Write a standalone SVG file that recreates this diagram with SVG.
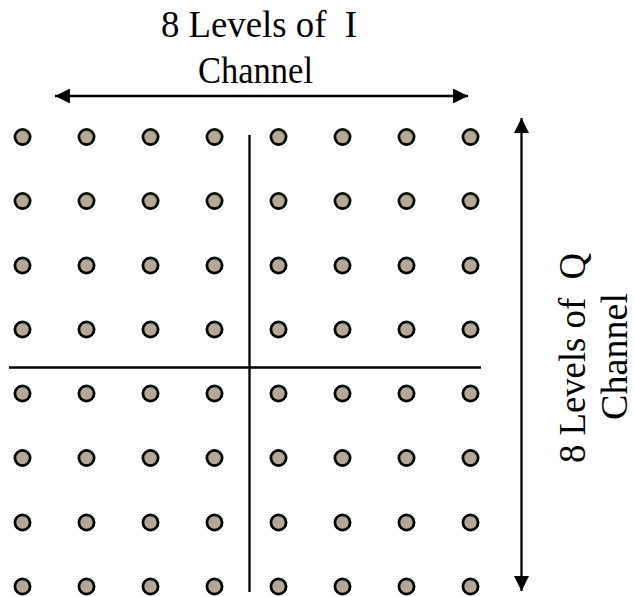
<svg xmlns="http://www.w3.org/2000/svg" width="635" height="597" viewBox="0 0 635 597">
<style>
.pt{fill:#b4a897;stroke:#000;stroke-width:2.8}
.ax{stroke:#000;stroke-width:2.3;fill:none}
.lbl{font-family:"Liberation Serif","Times New Roman",serif;font-size:38px;fill:#000}
</style>
<defs>
<marker id="ah" viewBox="0 0 10 10" refX="10" refY="5" markerWidth="7.5" markerHeight="6.5" markerUnits="strokeWidth" orient="auto-start-reverse">
<path d="M0,0 L10,5 L0,10 Z" fill="#000"/>
</marker>
</defs>
<rect width="635" height="597" fill="#fff"/>
<g id="connectors">
<line class="ax" x1="249.5" y1="135" x2="249.5" y2="592"/>
<line class="ax" x1="9" y1="367.5" x2="481" y2="367.5"/>
<line class="ax" x1="55" y1="96" x2="468" y2="96" marker-start="url(#ah)" marker-end="url(#ah)"/>
<line class="ax" x1="521.5" y1="118" x2="521.5" y2="591" marker-start="url(#ah)" marker-end="url(#ah)"/>
</g>
<g id="label-i">
<text class="lbl" x="161" y="37" textLength="196" lengthAdjust="spacingAndGlyphs" xml:space="preserve">8 Levels of  I</text>
<text class="lbl" x="198" y="83" textLength="115" lengthAdjust="spacingAndGlyphs">Channel</text>
</g>
<g id="label-q">
<text class="lbl" transform="translate(585,463) rotate(-90)" x="0" y="0" textLength="210" lengthAdjust="spacingAndGlyphs" xml:space="preserve">8 Levels of  Q</text>
<text class="lbl" transform="translate(627,420) rotate(-90)" x="0" y="0" textLength="127" lengthAdjust="spacingAndGlyphs">Channel</text>
</g>
<g id="points">
<g id="row1"><circle class="pt" cx="22.5" cy="137" r="7.6"/><circle class="pt" cx="86.5" cy="137" r="7.6"/><circle class="pt" cx="150.5" cy="137" r="7.6"/><circle class="pt" cx="214.5" cy="137" r="7.6"/><circle class="pt" cx="278.5" cy="137" r="7.6"/><circle class="pt" cx="342.5" cy="137" r="7.6"/><circle class="pt" cx="406.5" cy="137" r="7.6"/><circle class="pt" cx="470.5" cy="137" r="7.6"/></g>
<g id="row2"><circle class="pt" cx="22.5" cy="201" r="7.6"/><circle class="pt" cx="86.5" cy="201" r="7.6"/><circle class="pt" cx="150.5" cy="201" r="7.6"/><circle class="pt" cx="214.5" cy="201" r="7.6"/><circle class="pt" cx="278.5" cy="201" r="7.6"/><circle class="pt" cx="342.5" cy="201" r="7.6"/><circle class="pt" cx="406.5" cy="201" r="7.6"/><circle class="pt" cx="470.5" cy="201" r="7.6"/></g>
<g id="row3"><circle class="pt" cx="22.5" cy="265.5" r="7.6"/><circle class="pt" cx="86.5" cy="265.5" r="7.6"/><circle class="pt" cx="150.5" cy="265.5" r="7.6"/><circle class="pt" cx="214.5" cy="265.5" r="7.6"/><circle class="pt" cx="278.5" cy="265.5" r="7.6"/><circle class="pt" cx="342.5" cy="265.5" r="7.6"/><circle class="pt" cx="406.5" cy="265.5" r="7.6"/><circle class="pt" cx="470.5" cy="265.5" r="7.6"/></g>
<g id="row4"><circle class="pt" cx="22.5" cy="329.5" r="7.6"/><circle class="pt" cx="86.5" cy="329.5" r="7.6"/><circle class="pt" cx="150.5" cy="329.5" r="7.6"/><circle class="pt" cx="214.5" cy="329.5" r="7.6"/><circle class="pt" cx="278.5" cy="329.5" r="7.6"/><circle class="pt" cx="342.5" cy="329.5" r="7.6"/><circle class="pt" cx="406.5" cy="329.5" r="7.6"/><circle class="pt" cx="470.5" cy="329.5" r="7.6"/></g>
<g id="row5"><circle class="pt" cx="22.5" cy="393.5" r="7.6"/><circle class="pt" cx="86.5" cy="393.5" r="7.6"/><circle class="pt" cx="150.5" cy="393.5" r="7.6"/><circle class="pt" cx="214.5" cy="393.5" r="7.6"/><circle class="pt" cx="278.5" cy="393.5" r="7.6"/><circle class="pt" cx="342.5" cy="393.5" r="7.6"/><circle class="pt" cx="406.5" cy="393.5" r="7.6"/><circle class="pt" cx="470.5" cy="393.5" r="7.6"/></g>
<g id="row6"><circle class="pt" cx="22.5" cy="458" r="7.6"/><circle class="pt" cx="86.5" cy="458" r="7.6"/><circle class="pt" cx="150.5" cy="458" r="7.6"/><circle class="pt" cx="214.5" cy="458" r="7.6"/><circle class="pt" cx="278.5" cy="458" r="7.6"/><circle class="pt" cx="342.5" cy="458" r="7.6"/><circle class="pt" cx="406.5" cy="458" r="7.6"/><circle class="pt" cx="470.5" cy="458" r="7.6"/></g>
<g id="row7"><circle class="pt" cx="22.5" cy="522.5" r="7.6"/><circle class="pt" cx="86.5" cy="522.5" r="7.6"/><circle class="pt" cx="150.5" cy="522.5" r="7.6"/><circle class="pt" cx="214.5" cy="522.5" r="7.6"/><circle class="pt" cx="278.5" cy="522.5" r="7.6"/><circle class="pt" cx="342.5" cy="522.5" r="7.6"/><circle class="pt" cx="406.5" cy="522.5" r="7.6"/><circle class="pt" cx="470.5" cy="522.5" r="7.6"/></g>
<g id="row8"><circle class="pt" cx="22.5" cy="586.5" r="7.6"/><circle class="pt" cx="86.5" cy="586.5" r="7.6"/><circle class="pt" cx="150.5" cy="586.5" r="7.6"/><circle class="pt" cx="214.5" cy="586.5" r="7.6"/><circle class="pt" cx="278.5" cy="586.5" r="7.6"/><circle class="pt" cx="342.5" cy="586.5" r="7.6"/><circle class="pt" cx="406.5" cy="586.5" r="7.6"/><circle class="pt" cx="470.5" cy="586.5" r="7.6"/></g>
</g>
</svg>
